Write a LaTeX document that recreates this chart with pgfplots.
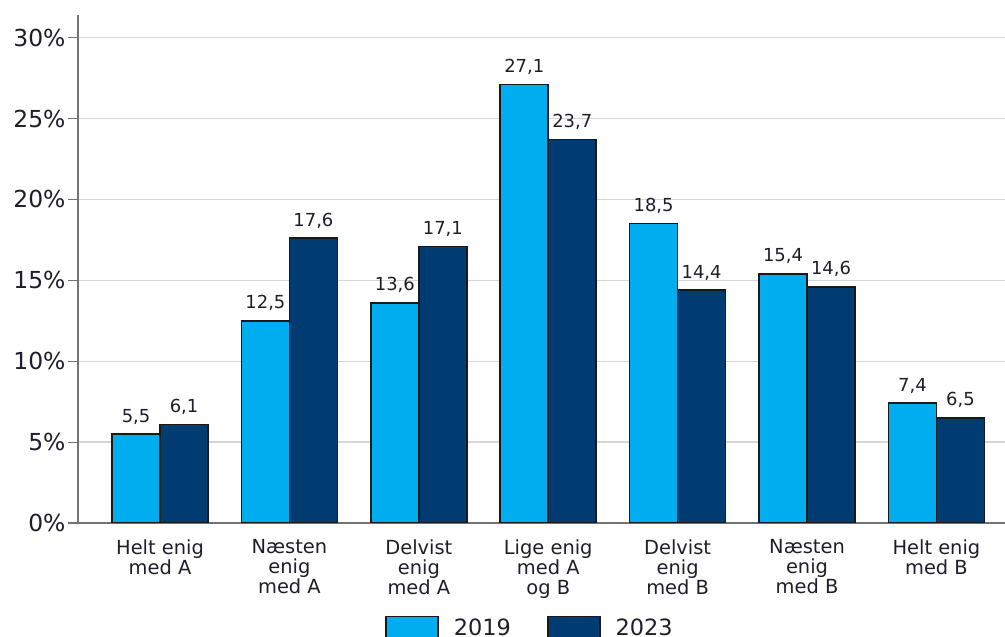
\documentclass[border=0pt]{standalone}
\usepackage{fontspec}
\setmainfont{DejaVu Sans}
\usepackage{pgfplots}
\pgfplotsset{compat=1.18}

\definecolor{lysblaa}{HTML}{00AEEF}
\definecolor{moerkblaa}{HTML}{003B71}
\definecolor{gitter}{HTML}{D6D6D6}
\definecolor{tekst}{HTML}{1E1E2A}

\begin{document}
\begin{tikzpicture}
\path[use as bounding box] (0,0) rectangle (1005bp,637bp);
\begin{axis}[
    at={(78bp,114bp)}, anchor=south west,
    scale only axis,
    width=927bp, height=508bp,
    ymin=0, ymax=31.4,
    xmin=-0.634, xmax=6.53,
    ybar=0pt, bar width=48bp,
    axis x line*=bottom, axis y line*=left,
    axis line style={black!55, line width=1.5bp},
    ytick={0,5,...,30},
    yticklabel={\pgfmathprintnumber{\tick}\%},
    ytick style={black!55, line width=1.2bp},
    tick align=outside,
    major tick length=10bp,
    ymajorgrids=true,
    grid style={gitter, line width=1.3bp},
    xtick={0,...,6},
    xtick style={draw=none},
    xticklabels={{Helt enig\\med A},{Næsten\\enig\\med A},{Delvist\\enig\\med A},{Lige enig\\med A\\og B},{Delvist\\enig\\med B},{Næsten\\enig\\med B},{Helt enig\\med B}},
    xticklabel style={align=center, font=\fontsize{19.5}{20}\selectfont, text=tekst, yshift=-3bp},
    yticklabel style={font=\fontsize{23.5}{25}\selectfont, text=tekst, xshift=1bp},
    /pgf/number format/assume math mode=true,
    nodes near coords={\pgfmathprintnumber[assume math mode=true,fixed,fixed zerofill,precision=1,use comma]{\pgfplotspointmeta}},
    nodes near coords style={font=\fontsize{18}{20}\selectfont, text=tekst, anchor=base, yshift=12bp, inner sep=0pt},
    legend columns=2,
    legend style={draw=none, at={(0.4876,-0.178)}, anchor=north,
        font=\fontsize{22.5}{26}\selectfont, text=tekst,
        /tikz/every odd column/.append style={column sep=13bp},
        /tikz/every even column/.append style={column sep=34bp}},
    legend image code/.code={\draw[#1, line width=1.6bp] (0bp,-12bp) rectangle (52bp,12bp);},
]
\addplot[fill=lysblaa, draw=black!90, line width=1.6bp] coordinates {
    (0,5.5) (1,12.5) (2,13.6) (3,27.1) (4,18.5) (5,15.4) (6,7.4)
};
\addlegendentry{2019}
\addplot[fill=moerkblaa, draw=black!90, line width=1.6bp] coordinates {
    (0,6.1) (1,17.6) (2,17.1) (3,23.7) (4,14.4) (5,14.6) (6,6.5)
};
\addlegendentry{2023}
\end{axis}
\end{tikzpicture}
\end{document}
